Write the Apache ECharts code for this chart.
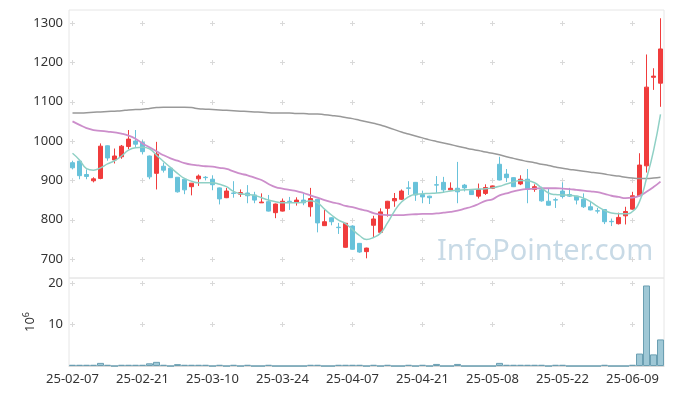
<!DOCTYPE html>
<html><head><meta charset="utf-8">
<script src="https://cdn.jsdelivr.net/npm/echarts@6/dist/echarts.min.js"></script>
<style>html,body{margin:0;padding:0;background:#fff}#c{width:673px;height:396px}</style>
</head><body><div id="c"></div>
<script>
const dates = ['25-02-07','25-02-10','25-02-11','25-02-12','25-02-13','25-02-14','25-02-17','25-02-18','25-02-19','25-02-20',
'25-02-21','25-02-24','25-02-25','25-02-26','25-02-27','25-02-28','25-03-04','25-03-05','25-03-06','25-03-07',
'25-03-10','25-03-11','25-03-12','25-03-13','25-03-14','25-03-17','25-03-18','25-03-19','25-03-20','25-03-21',
'25-03-24','25-03-25','25-03-26','25-03-27','25-03-28','25-03-31','25-04-01','25-04-02','25-04-03','25-04-04',
'25-04-07','25-04-08','25-04-09','25-04-10','25-04-11','25-04-14','25-04-15','25-04-16','25-04-17','25-04-18',
'25-04-21','25-04-22','25-04-23','25-04-24','25-04-25','25-04-28','25-04-29','25-04-30','25-05-02','25-05-07',
'25-05-08','25-05-09','25-05-12','25-05-13','25-05-14','25-05-15','25-05-16','25-05-19','25-05-20','25-05-21',
'25-05-22','25-05-23','25-05-26','25-05-27','25-05-28','25-05-29','25-05-30','25-06-02','25-06-04','25-06-05',
'25-06-09','25-06-10','25-06-11','25-06-12','25-06-13'];
const opens = [945,949,915,899,905,988,952,960,986,1000,
996,962,918,936,931,908,903,884,904,908,
903,881,856,868,865,868,863,843,846,818,
822,847,844,850,833,852,785,805,781,730,
784,740,719,786,768,829,848,852,881,895,
864,860,889,895,876,880,888,874,860,867,
880,941,916,907,891,903,877,876,847,851,
873,864,860,852,833,823,826,796,790,810,
827,861,937,1162,1147];
const closes = [932,912,910,904,987,957,962,987,1005,992,
973,909,967,926,907,871,876,893,911,907,
889,853,873,867,869,861,850,845,822,840,
847,846,850,843,854,792,795,795,780,791,
725,718,728,802,820,847,854,873,880,863,
858,856,888,876,880,871,881,864,877,882,
886,901,907,884,903,877,884,848,837,850,
859,860,850,833,825,822,795,795,806,821,
861,939,1137,1165,1234];
const lows = [928,903,903,895,903,950,943,955,979,985,
966,903,877,920,906,869,865,862,886,900,
875,839,855,856,858,842,842,843,821,804,
821,825,836,837,808,768,785,786,764,729,
724,716,702,755,767,808,833,850,863,848,
842,840,868,868,875,842,872,863,854,863,
878,900,896,883,888,842,871,846,836,830,
854,858,839,830,824,816,789,784,788,788,
826,860,920,1130,1087];
const highs = [950,950,928,908,994,989,981,990,1028,1028,
1002,963,998,945,933,908,904,893,915,911,
913,882,881,898,877,888,871,867,863,841,
854,858,857,867,881,853,825,806,792,792,
786,741,729,810,829,848,868,877,898,896,
874,861,911,909,895,947,891,875,892,890,
887,960,929,908,913,929,890,884,880,856,
895,881,861,867,848,830,827,803,818,833,
871,969,1220,1185,1312];
const ma5 = [969,952,930,926,932,942,950,962,977,983,
984,980,964,948,933,918,905,898,894,894,
894,890,884,872,866,864,862,856,850,846,
843,843,843,845,848,843,827,812,799,790,
775,760,750,755,766,792,822,845,858,865,
866,867,868,870,873,875,876,877,878,879,
881,885,891,896,900,899,894,881,868,864,
863,862,860,855,846,834,824,817,815,815,
821,846,905,975,1068];
const ma20 = [1050,1041,1033,1028,1026,1024,1022,1019,1014,1006,
994,984,974,964,956,950,944,940,938,936,
935,932,929,923,917,913,907,901,891,883,
879,876,873,868,862,856,850,845,841,835,
832,827,823,817,813,812,812,812,813,814,
815,815,816,818,820,823,828,833,840,848,
852,862,867,872,876,878,879,880,880,880,
879,878,876,874,872,870,866,861,858,855,
856,861,871,883,897];
const ma60 = [1071,1071,1072,1073,1074,1075,1076,1077,1079,1080,
1081,1083,1085,1086,1086,1086,1086,1085,1082,1081,
1080,1079,1078,1077,1076,1075,1074,1073,1072,1071,
1071,1071,1070,1070,1069,1069,1067,1065,1063,1060,
1057,1053,1049,1045,1041,1035,1029,1023,1018,1013,
1008,1003,999,995,991,987,983,979,976,972,
969,965,960,956,952,948,945,941,938,934,
931,928,926,923,921,919,916,913,911,908,
906,905,905,906,908];
const volumes = [0.3,0.3,0.3,0.3,0.75,0.3,0,0.3,0.3,0.3,
0.3,0.65,1.0,0.3,0,0.45,0.3,0.3,0.3,0.3,
0,0.3,0,0.3,0,0.3,0,0,0.3,0,
0,0,0,0,0.3,0.3,0,0,0.3,0.3,
0.3,0.3,0,0.3,0,0.3,0,0,0.3,0,
0.3,0,0.5,0,0,0.5,0,0,0,0,
0,0.75,0.3,0.3,0.3,0.3,0.3,0.3,0,0.3,
0.3,0,0,0,0,0,0.3,0,0,0,
0.3,3.0,19.4,2.8,6.4];
const priceTicks = [700,800,900,1000,1100,1200,1300];
const volTicks = [10,20];
const gridCats = [0,10,20,30,40,50,60,70,80];

const candleData = opens.map((o,i)=>[o, closes[i], lows[i], highs[i]]);
const priceCross = []; gridCats.forEach(c=>priceTicks.forEach(v=>priceCross.push([c,v])));
const volCross = []; gridCats.forEach(c=>volTicks.forEach(v=>volCross.push([c,v])));

function crossItem(params, api){
  const p = api.coord([api.value(0), api.value(1)]);
  const st = {stroke:'#d9d9d9', lineWidth:1};
  return {type:'group', children:[
    {type:'line', shape:{x1:p[0]-2.5,y1:Math.round(p[1])+0.5,x2:p[0]+2.5,y2:Math.round(p[1])+0.5}, style:st},
    {type:'line', shape:{x1:p[0],y1:Math.round(p[1])-2,x2:p[0],y2:Math.round(p[1])+3}, style:st}
  ]};
}
const FONT = 'Noto Sans';
const chart = echarts.init(document.getElementById('c'), null, {renderer:'canvas'});
chart.setOption({
  animation:false,
  backgroundColor:'#fff',
  textStyle:{fontFamily:FONT},
  grid:[
    {left:69, right:9, top:10, height:268, show:true, borderColor:'#e6e6e6', borderWidth:1, backgroundColor:'transparent'},
    {left:69, right:9, top:278, height:88, show:true, borderColor:'#e6e6e6', borderWidth:1, backgroundColor:'transparent'}
  ],
  graphic:[{type:'text', left:437, top:237, z:0, silent:true,
    style:{text:'InfoPointer.com', fontSize:29, fontFamily:FONT, fill:'#c8dae6'}}],
  xAxis:[
    {type:'category', gridIndex:0, data:dates, boundaryGap:true,
     axisLine:{show:false}, axisTick:{show:false}, axisLabel:{show:false}, splitLine:{show:false}},
    {type:'category', gridIndex:1, data:dates, boundaryGap:true,
     axisLine:{show:true, lineStyle:{color:'#d9d9d9'}}, axisTick:{show:false},
     axisLabel:{interval:9, color:'#333', fontSize:13, fontFamily:FONT, margin:7}, splitLine:{show:false}}
  ],
  yAxis:[
    {type:'value', gridIndex:0, min:652, max:1333, scale:true,
     axisLine:{show:false}, axisTick:{show:false}, splitLine:{show:false},
     axisLabel:{color:'#333', fontSize:13, fontFamily:FONT, margin:6, showMinLabel:false, showMaxLabel:false,
       formatter:v=>String(v)}},
    {type:'value', gridIndex:1, min:0, max:21.2, interval:10,
     axisLine:{show:false}, axisTick:{show:false}, splitLine:{show:false},
     axisLabel:{color:'#333', fontSize:13, fontFamily:FONT, margin:6, showMinLabel:false, showMaxLabel:false,
       formatter:v=>String(v)},
     name:'{b|10}{s|6}', nameLocation:'middle', nameGap:25, nameRotate:90,
     nameTextStyle:{color:'#333', rich:{b:{fontSize:13, fontFamily:FONT, color:'#333'}, s:{fontSize:9, fontFamily:FONT, color:'#333', padding:[0,0,8,0]}}}}
  ],
  series:[
    {type:'custom', xAxisIndex:0, yAxisIndex:0, data:priceCross, renderItem:crossItem, silent:true, z:1},
    {type:'custom', xAxisIndex:1, yAxisIndex:1, data:volCross, renderItem:crossItem, silent:true, z:1},
    {type:'candlestick', xAxisIndex:0, yAxisIndex:0, data:candleData, barWidth:5, z:3,
     itemStyle:{color:'#f03c3c', color0:'#68c2da', borderColor:'#f03c3c', borderColor0:'#68c2da', borderWidth:1}},
    {type:'line', xAxisIndex:0, yAxisIndex:0, data:ma60, smooth:true, showSymbol:false, symbol:'none', z:4,
     lineStyle:{color:'#999999', width:1.5}},
    {type:'line', xAxisIndex:0, yAxisIndex:0, data:ma20, smooth:true, showSymbol:false, symbol:'none', z:4,
     lineStyle:{color:'#cc8ecb', width:1.8}},
    {type:'line', xAxisIndex:0, yAxisIndex:0, data:ma5, smooth:true, showSymbol:false, symbol:'none', z:4,
     lineStyle:{color:'#8fd0c5', width:1.5}},
    {type:'bar', xAxisIndex:1, yAxisIndex:1, data:volumes, barCategoryGap:'0%', z:3,
     itemStyle:{color:'#9fc8d6', borderColor:'#6b9fb2', borderWidth:1}}
  ]
});
</script></body></html>
